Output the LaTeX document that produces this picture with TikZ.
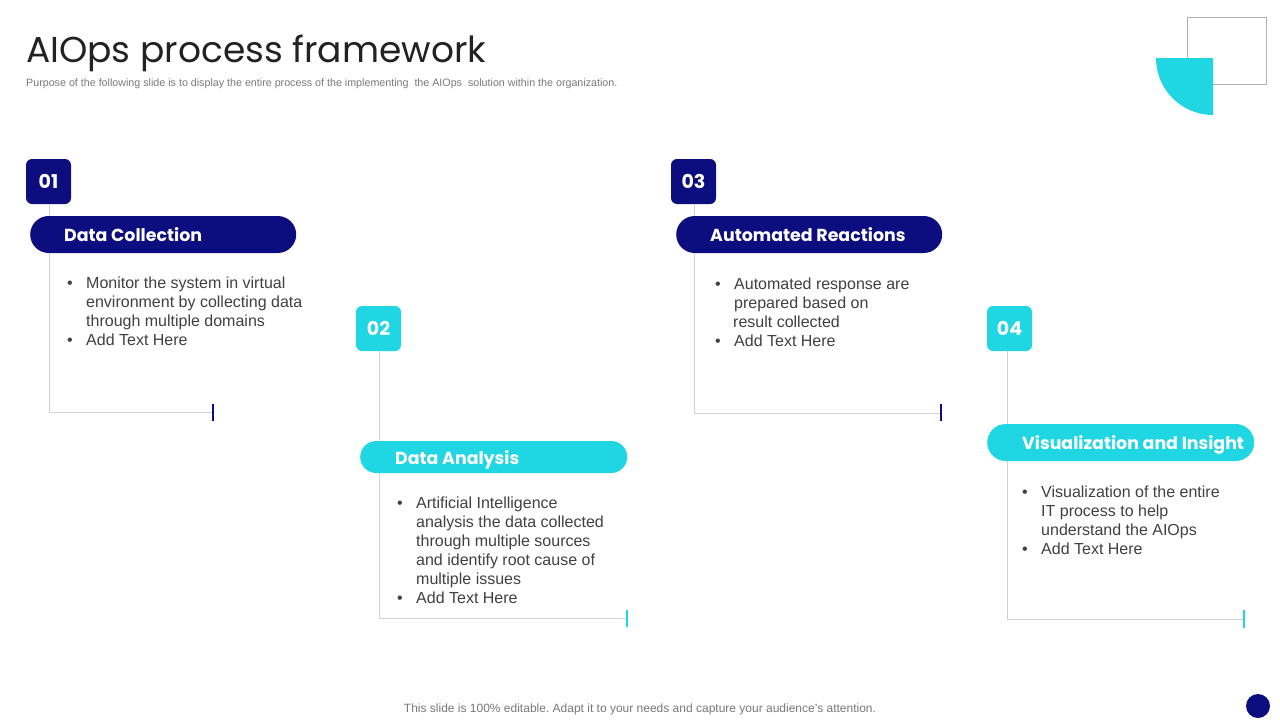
\documentclass[tikz,border=0pt]{standalone}
\usepackage{fontspec}
\setmainfont{Liberation Sans}
\newfontfamily\popf{Poppins}
\frenchspacing
\definecolor{navy}{RGB}{12,14,128}
\definecolor{cyanb}{RGB}{32,214,226}
\definecolor{linegray}{RGB}{208,210,218}
\definecolor{bodytxt}{RGB}{64,64,64}
\definecolor{titletxt}{RGB}{34,34,34}
\definecolor{subtxt}{RGB}{120,120,120}
\newcommand{\bul}{\textbullet}
\begin{document}
\begin{tikzpicture}[x=1pt,y=-1pt,
  numbox/.style={minimum width=45pt,minimum height=45pt,rounded corners=6pt,inner sep=0pt,text=white,font=\popf\bfseries\fontsize{19}{19}\selectfont},
  pillbox/.style={minimum height=37pt,rounded corners=18.5pt,inner sep=0pt,anchor=west},
  headtxt/.style={anchor=base west,inner sep=0pt,text=white,font=\popf\bfseries\fontsize{17.4}{20}\selectfont},
  bodyblk/.style={anchor=base west,inner sep=0pt,text=bodytxt,font=\fontsize{16}{19}\selectfont},
  gl/.style={draw=linegray,line width=1pt},
  tickline/.style={line width=1.4pt}
]
\useasboundingbox (0,0) rectangle (1280,720);
% title
\node[anchor=base west,inner sep=0pt,text=titletxt,font=\popf\fontsize{36}{40}\selectfont] (title) at (26,62) {AIOps process framework};
\node[anchor=base west,inner sep=0pt,text=subtxt,font=\fontsize{10.7}{12}\selectfont] (sub) at (26,86) {Purpose of the following slide is to display the entire process of the implementing\ \ the AIOps\ \ solution within the organization.};
% decoration
\draw[draw=black!30,line width=1pt] (1187,17) rectangle (1266,84);
\fill[cyanb] (1213,58) -- (1156,58) arc[start angle=180,end angle=90,radius=57] -- cycle;
% footer
\node[anchor=base,inner sep=0pt,text=subtxt,font=\fontsize{12}{14}\selectfont] (foot) at (640,712) {This slide is 100\% editable. Adapt it to your needs and capture your audience's attention.};
\fill[navy] (1258,706) circle[radius=12];

% ---------- coordinates
\coordinate (c1) at (213,412); \coordinate (t1a) at (213,404); \coordinate (t1b) at (213,421);
\coordinate (c2) at (627,618); \coordinate (t2a) at (627,610); \coordinate (t2b) at (627,627);
\coordinate (c3) at (941,413); \coordinate (t3a) at (941,404); \coordinate (t3b) at (941,421);
\coordinate (c4) at (1244,619); \coordinate (t4a) at (1244,610); \coordinate (t4b) at (1244,628);

% number boxes
\node[numbox,fill=navy] (n1) at (48.5,181.5) {01};
\node[numbox,fill=cyanb] (n2) at (378.5,328.5) {02};
\node[numbox,fill=navy] (n3) at (693.5,181.5) {03};
\node[numbox,fill=cyanb] (n4) at (1009.5,328.5) {04};

% connector lines (behind pills)
\draw[gl] ([xshift=0.5pt]n1.south) |- (c1);
\draw[gl] ([xshift=0.5pt]n2.south) |- (c2);
\draw[gl] ([xshift=0.5pt]n3.south) |- (c3);
\draw[gl] ([xshift=-2.5pt]n4.south) |- (c4);
\draw[tickline,navy] (t1a) -- (t1b);
\draw[tickline,cyanb] (t2a) -- (t2b);
\draw[tickline,navy] (t3a) -- (t3b);
\draw[tickline,cyanb] (t4a) -- (t4b);

% pills
\node[pillbox,fill=navy,minimum width=266pt] (p1) at (30,234.5) {};
\node[pillbox,fill=cyanb,minimum width=267pt,minimum height=32pt,rounded corners=16pt] (p2) at (360,457) {};
\node[pillbox,fill=navy,minimum width=266pt] (p3) at (676,234.5) {};
\node[pillbox,fill=cyanb,minimum width=267pt] (p4) at (987,442.5) {};
\node[headtxt] (h1) at ([xshift=34pt,yshift=-7pt]p1.west) {Data Collection};
\node[headtxt] (h2) at ([xshift=35pt,yshift=-7pt]p2.west) {Data Analysis};
\node[headtxt] (h3) at ([xshift=34pt,yshift=-7pt]p3.west) {Automated Reactions};
\node[headtxt] (h4) at ([xshift=35pt,yshift=-7pt]p4.west) {Visualization and Insight};

% bodies
\node[bodyblk] (b1) at (67,288) {\begin{tabular}[t]{@{}p{19pt}@{}l@{}}
\bul & Monitor the system in virtual\\
 & environment\ by collecting data\\
 & through\ multiple\ domains\\
\bul & Add Text Here
\end{tabular}};
\node[bodyblk] (b2) at (397,508) {\begin{tabular}[t]{@{}p{19pt}@{}l@{}}
\bul & Artificial Intelligence\\
 & analysis the data collected\\
 & through\ multiple\ sources\\
 & and identify root cause of\\
 & multiple issues\\
\bul & Add Text Here
\end{tabular}};
\node[bodyblk] (b3) at (715,289) {\begin{tabular}[t]{@{}p{19pt}@{}l@{}}
\bul & Automated\ response are\\
 & prepared based on\\
 & \hspace{-1pt}result\ collected\\
\bul & Add Text Here
\end{tabular}};
\node[bodyblk] (b4) at (1022,497) {\begin{tabular}[t]{@{}p{19pt}@{}l@{}}
\bul & Visualization of the entire\\
 & IT\ process to help\\
 & understand the AIOps\\
\bul & Add Text Here
\end{tabular}};
\end{tikzpicture}
\end{document}
